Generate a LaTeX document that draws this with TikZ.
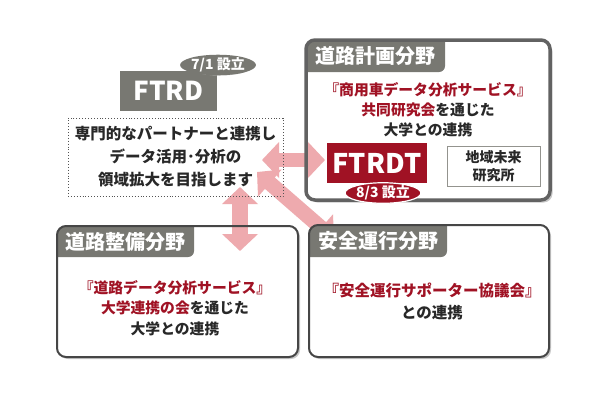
\documentclass[tikz,border=0pt]{standalone}
\usepackage{fontspec}
\setmainfont{Noto Sans CJK JP}
\usetikzlibrary{arrows.meta,shapes.geometric}
\definecolor{tg}{RGB}{120,120,114}
\definecolor{rd}{RGB}{160,18,36}
\definecolor{pk}{RGB}{238,170,174}
\definecolor{tx}{RGB}{40,40,40}
\definecolor{bd}{RGB}{70,70,70}
\definecolor{shd}{RGB}{200,200,200}
\tikzset{
  fatarrow/.style={pk, line width=#1, {Triangle[width=35pt,length=17pt]}-{Triangle[width=35pt,length=17pt]}},
  panel/.style={draw=bd, line width=2pt, rounded corners=9pt, inner sep=0pt},
  panelfill/.style={fill=white, rounded corners=9pt, inner sep=0pt},
  panelshadow/.style={fill=shd, draw=none, rounded corners=9pt, inner sep=0pt},
  tagtext/.style={text=white, font=\fontsize{20}{22}\selectfont\bfseries, inner sep=0pt},
  body/.style={text=tx, align=center, font=\fontsize{15}{21}\selectfont\bfseries, inner sep=0pt},
  badge/.style={ellipse, text=white, inner sep=0pt, font=\fontsize{14}{15}\selectfont\bfseries},
  logo/.style={text=white, inner sep=0pt, font=\fontsize{26}{28}\selectfont\bfseries},
}
\begin{document}
\begin{tikzpicture}[x=1pt, y=-1pt]
\useasboundingbox (0,0) rectangle (610,400);
\fill[white] (0,0) rectangle (610,400);

% ---------- panel shadows and fills ----------
\node[panelshadow, minimum width=244pt, minimum height=160pt] at (430.5,122.5) {};
\node[panelfill, minimum width=244pt, minimum height=160pt] at (428,120) {};
\node[panelshadow, minimum width=241pt, minimum height=131pt] at (179.5,293.5) {};
\node[panelfill, minimum width=241pt, minimum height=131pt] at (177.5,291.5) {};
\node[panelshadow, minimum width=240pt, minimum height=132pt] at (431,293) {};
\node[panelfill, minimum width=240pt, minimum height=132pt] at (429,291) {};

% ---------- arrows ----------
\coordinate (hL) at (262,160);
\coordinate (hR) at (325,160);
\coordinate (vT) at (240,187);
\coordinate (vB) at (240,251);
\coordinate (dT) at (257,172);
\coordinate (dB) at (334,239);
\draw[fatarrow=14pt] (hL) -- (hR);
\draw[fatarrow=16pt] (vT) -- (vB);
\draw[fatarrow=15pt] (dT) -- (dB);

% ---------- FTRD ----------
\node[fill=tg, minimum width=97pt, minimum height=40pt, logo] (ftrd) at (168.5,91) {FTRD};
\fill[shd] (220,67) ellipse (31pt and 8.5pt);
\node[badge, fill=tg, minimum width=62pt, minimum height=17pt] (b71) at (218,65) {7/1 設立};

\node[draw=tx!80, dotted, line width=0.9pt, minimum width=215pt, minimum height=78pt, body, font=\fontsize{15.5}{23}\selectfont\bfseries] (dbox) at (175.5,157)
  {専門的なパートナーと連携し\\データ活用･分析の\\領域拡大を目指します};

% ---------- top right panel ----------
\fill[tg] (306,72) [rounded corners=9pt] -- (306,40) [sharp corners] -- (445,40) [rounded corners=6pt] -- (445,72) [sharp corners] -- cycle;
\node[panel, draw=bd!85, line width=3.5pt, minimum width=244pt, minimum height=160pt] (plan) at (428,120) {};
\node[tagtext] (plantag) at (375.5,56) {道路計画分野};
\node[body, font=\fontsize{14.8}{20}\selectfont\bfseries] (plantext) at (428,110)
  {\textcolor{rd}{『商用車データ分析サービス』}\\\textcolor{rd}{共同研究会}を通じた\\大学との連携};
\node[fill=rd, minimum width=100pt, minimum height=40pt, logo, font=\fontsize{27}{29}\selectfont\bfseries] (ftrdt) at (377,163) {FTRDT};
\node[badge, fill=rd, draw=white, line width=1.2pt, minimum width=64pt, minimum height=18pt] (b83) at (383,193) {8/3 設立};
\node[draw=tg!80, line width=0.9pt, fill=white, minimum width=93pt, minimum height=40pt, body, font=\fontsize{14}{18}\selectfont\bfseries] (lab) at (493.5,166) {地域未来\\研究所};

% ---------- bottom left panel ----------
\fill[tg] (57,257) [rounded corners=9pt] -- (57,226) [sharp corners] -- (194,226) [rounded corners=6pt] -- (194,257) [sharp corners] -- cycle;
\node[panel, minimum width=241pt, minimum height=131pt] (seibi) at (177.5,291.5) {};
\node[tagtext] (seibitag) at (125.5,241.5) {道路整備分野};
\node[body, font=\fontsize{14.8}{20.5}\selectfont\bfseries] (seibitext) at (175,308)
  {\textcolor{rd}{『道路データ分析サービス』}\\\textcolor{rd}{大学連携の会}を通じた\\大学との連携};

% ---------- bottom right panel ----------
\fill[tg] (309,257) [rounded corners=9pt] -- (309,225) [sharp corners] -- (447,225) [rounded corners=6pt] -- (447,257) [sharp corners] -- cycle;
\node[panel, minimum width=240pt, minimum height=132pt] (anzen) at (429,291) {};
\node[tagtext] (anzentag) at (378,241) {安全運行分野};
\node[body, font=\fontsize{15.5}{22}\selectfont\bfseries] (anzentext) at (432,301)
  {\textcolor{rd}{『安全運行サポーター協議会』}\\との連携};
\end{tikzpicture}
\end{document}
